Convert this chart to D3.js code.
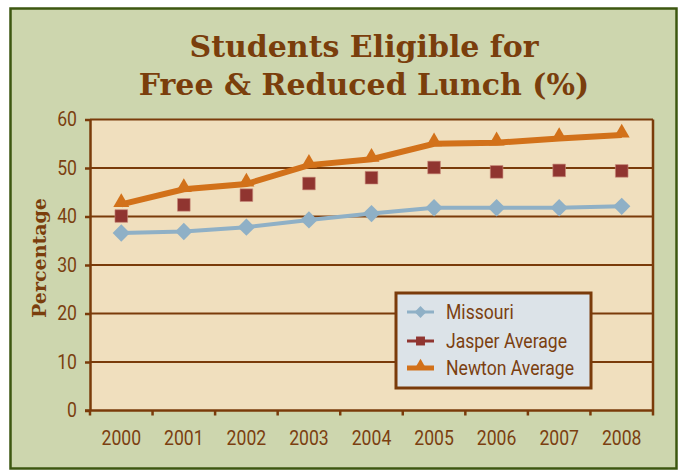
<!DOCTYPE html>
<html>
<head>
<meta charset="utf-8">
<script src="https://cdn.jsdelivr.net/npm/d3@7"></script>
<style>
  body { margin: 0; background: #ffffff; }
  svg { display: block; }
</style>
</head>
<body>
<div id="chart"></div>
<script>
// chart data
var years = ["2000", "2001", "2002", "2003", "2004", "2005", "2006", "2007", "2008"];
var missouri = [36.6, 36.9, 37.8, 39.3, 40.6, 41.8, 41.8, 41.8, 42.1];
var jasper = [40.1, 42.4, 44.4, 46.8, 48.0, 50.1, 49.2, 49.5, 49.4];
var newton = [42.5, 45.6, 46.7, 50.6, 51.8, 55.0, 55.2, 56.1, 56.8];
var yTicks = [0, 10, 20, 30, 40, 50, 60];
var seriesNames = ["Missouri", "Jasper Average", "Newton Average"];

var width = 681, height = 471;
var brown = "#7a3b0a";
var textBrown = "#7b3f10";
var narrow = "'Liberation Sans Narrow', 'Arial Narrow', 'Roboto', sans-serif";
var squeeze = 0.88; // no condensed font installed, so squeeze Roboto a bit

var svg = d3.select("#chart").append("svg")
    .attr("width", width)
    .attr("height", height);

// outer frame
svg.append("rect")
    .attr("x", 10.5).attr("y", 8.5)
    .attr("width", 666).attr("height", 460)
    .attr("fill", "#cdd6ae")
    .attr("stroke", "#3d5710")
    .attr("stroke-width", 2.5);

// title
var title = svg.append("text")
    .attr("text-anchor", "middle")
    .attr("font-family", "'DejaVu Serif', serif")
    .attr("font-weight", "bold")
    .attr("font-size", "30px")
    .attr("fill", "#7a3e0c");
title.append("tspan").attr("x", 364).attr("y", 57).text("Students Eligible for");
title.append("tspan").attr("x", 364).attr("y", 95).text("Free & Reduced Lunch (%)");

var plot = {left: 90, right: 653, top: 119.5, bottom: 410.5};

var x = d3.scaleBand().domain(years).range([plot.left, plot.right]).padding(0);
var y = d3.scaleLinear().domain([0, 60]).range([plot.bottom, plot.top]);
var cx = function(i) { return x(years[i]) + x.bandwidth() / 2; };

// plot background
svg.append("rect")
    .attr("x", plot.left).attr("y", plot.top)
    .attr("width", plot.right - plot.left).attr("height", plot.bottom - plot.top)
    .attr("fill", "#f0dfbe");

// gridlines
svg.append("g").selectAll("line")
    .data(yTicks.filter(function(d) { return d > 0; }))
    .enter().append("line")
    .attr("x1", plot.left).attr("x2", plot.right)
    .attr("y1", function(d) { return y(d); })
    .attr("y2", function(d) { return y(d); })
    .attr("stroke", brown)
    .attr("stroke-width", 2);

// right border
svg.append("line")
    .attr("x1", plot.right).attr("x2", plot.right)
    .attr("y1", plot.top).attr("y2", plot.bottom)
    .attr("stroke", brown).attr("stroke-width", 2.5);

// y axis
var yAxis = svg.append("g")
    .attr("transform", "translate(" + plot.left + ",0)")
    .call(d3.axisLeft(y).tickValues(yTicks).tickSize(5).tickSizeOuter(0).tickPadding(6));
yAxis.select(".domain").attr("stroke", brown).attr("stroke-width", 2.5);
yAxis.selectAll(".tick line").attr("stroke", brown).attr("stroke-width", 2.5);
yAxis.selectAll(".tick text")
    .attr("x", 0)
    .attr("transform", "translate(-13,0) scale(" + squeeze + ",1)")
    .attr("font-family", narrow)
    .attr("font-size", "20px")
    .attr("fill", textBrown);

// x axis: tick marks on band edges, labels in band centers
var edges = years.map(function(d) { return x(d); }).concat([plot.right]);
var xAxis = svg.append("g");
xAxis.append("line")
    .attr("x1", plot.left - 5).attr("x2", plot.right + 1)
    .attr("y1", plot.bottom).attr("y2", plot.bottom)
    .attr("stroke", brown).attr("stroke-width", 2.5);
xAxis.selectAll(".xt")
    .data(edges)
    .enter().append("line")
    .attr("class", "xt")
    .attr("x1", function(d) { return d; }).attr("x2", function(d) { return d; })
    .attr("y1", plot.bottom).attr("y2", plot.bottom + 5)
    .attr("stroke", brown).attr("stroke-width", 2.5);
xAxis.selectAll(".xl")
    .data(years)
    .enter().append("text")
    .attr("class", "xl")
    .attr("transform", function(d, i) { return "translate(" + cx(i) + ",445) scale(" + squeeze + ",1)"; })
    .attr("text-anchor", "middle")
    .attr("font-family", narrow)
    .attr("font-size", "20px")
    .attr("fill", textBrown)
    .text(function(d) { return d; });

// y axis title
svg.append("text")
    .attr("transform", "translate(46,258) rotate(-90)")
    .attr("text-anchor", "middle")
    .attr("font-family", "'DejaVu Serif', serif")
    .attr("font-weight", "bold")
    .attr("font-size", "19px")
    .attr("fill", "#7a3e0c")
    .text("Percentage");

var line = d3.line()
    .x(function(d, i) { return cx(i); })
    .y(function(d) { return y(d); });

var blue = "#8fb0c6", red = "#903530", orange = "#d2711a";

// Missouri
svg.append("path").datum(missouri)
    .attr("d", line)
    .attr("fill", "none").attr("stroke", blue).attr("stroke-width", 4);
svg.append("g").selectAll("path")
    .data(missouri).enter().append("path")
    .attr("d", d3.symbol(d3.symbolSquare, 150))
    .attr("transform", function(d, i) { return "translate(" + cx(i) + "," + y(d) + ") rotate(45)"; })
    .attr("fill", blue);

// Newton
svg.append("path").datum(newton)
    .attr("d", line)
    .attr("fill", "none").attr("stroke", orange).attr("stroke-width", 6);
svg.append("g").selectAll("path")
    .data(newton).enter().append("path")
    .attr("d", d3.symbol(d3.symbolTriangle, 110))
    .attr("transform", function(d, i) { return "translate(" + cx(i) + "," + (y(d) - 2) + ")"; })
    .attr("fill", orange);

// Jasper (markers only)
svg.append("g").selectAll("path")
    .data(jasper).enter().append("path")
    .attr("d", d3.symbol(d3.symbolSquare, 160))
    .attr("transform", function(d, i) { return "translate(" + cx(i) + "," + y(d) + ")"; })
    .attr("fill", red)
    .attr("stroke", "#c98a7a").attr("stroke-width", 0.6);

// legend
var legend = svg.append("g").attr("transform", "translate(396,293)");
legend.append("rect")
    .attr("width", 195).attr("height", 95)
    .attr("fill", "#dce3e8")
    .attr("stroke", brown).attr("stroke-width", 3);

var legColors = [blue, red, orange];
var legSymbols = [d3.symbolSquare, d3.symbolSquare, d3.symbolTriangle];
var legSizes = [70, 80, 70];
var legRot = [45, 0, 0];
var legY = [19, 48, 75];
var item = legend.selectAll(".item")
    .data(seriesNames).enter().append("g")
    .attr("class", "item")
    .attr("transform", function(d, i) { return "translate(0," + legY[i] + ")"; });
item.append("line")
    .attr("x1", 11).attr("x2", 38)
    .attr("stroke", function(d, i) { return legColors[i]; })
    .attr("stroke-width", function(d, i) { return i == 2 ? 5 : 3; });
item.append("path")
    .attr("d", function(d, i) { return d3.symbol(legSymbols[i], legSizes[i])(); })
    .attr("transform", function(d, i) { return "translate(24.5," + (i == 2 ? -2 : 0) + ") rotate(" + legRot[i] + ")"; })
    .attr("fill", function(d, i) { return legColors[i]; });
item.append("text")
    .attr("transform", "translate(50,7) scale(" + squeeze + ",1)")
    .attr("font-family", narrow)
    .attr("font-size", "20px")
    .attr("fill", textBrown)
    .text(function(d) { return d; });
</script>
</body>
</html>
